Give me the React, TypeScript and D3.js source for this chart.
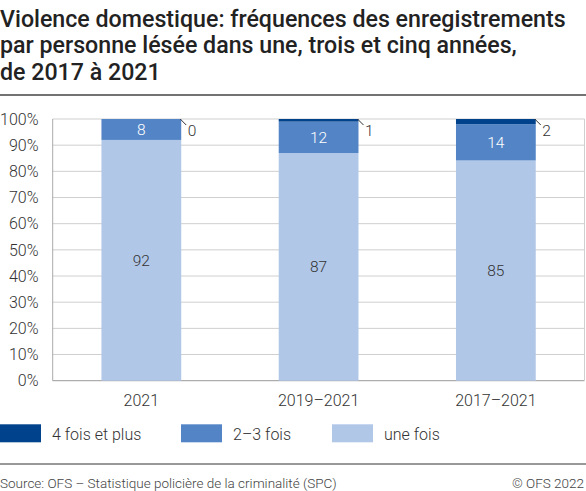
import { useEffect, useRef } from 'react'
import * as d3 from 'd3'

const categories = ['2021', '2019–2021', '2017–2021']
const series = ['4 fois et plus', '2–3 fois', 'une fois']
const uneFois = [92, 87, 85]
const deuxTrois = [8, 12, 14]
const quatrePlus = [0, 1, 2]
const yTicks = [0, 10, 20, 30, 40, 50, 60, 70, 80, 90, 100]
const titleLines = [
  'Violence domestique: fréquences des enregistrements',
  'par personne lésée dans une, trois et cinq années,',
  'de 2017 à 2021',
]
const colors = ['#00428c', '#5385c6', '#b1c7e8']

export default function App() {
  const ref = useRef<SVGSVGElement>(null)

  useEffect(() => {
    if (!ref.current) return
    const svg = d3.select(ref.current)
    svg.selectAll('*').remove()

    const width = 586
    const height = 491
    const font = 'Roboto, sans-serif'
    svg.attr('width', width).attr('height', height)

    // title
    svg.append('g')
      .selectAll('text')
      .data(titleLines)
      .join('text')
      .attr('x', 0)
      .attr('y', (d, i) => 26.5 + i * 26.8)
      .style('font-family', font)
      .style('font-weight', 500)
      .style('font-size', '23.2px')
      .style('fill', '#222')
      .text(d => d)

    svg.append('line')
      .attr('x1', 0).attr('x2', width)
      .attr('y1', 95).attr('y2', 95)
      .attr('stroke', '#444').attr('stroke-width', 1.5)

    const left = 52.7
    const right = 584.5
    const y = d3.scaleLinear().domain([0, 1]).range([380.7, 119])
    const x = d3.scaleBand().domain(categories).range([left, right]).paddingInner(0.55).paddingOuter(0.275)

    // gridlines
    svg.append('g')
      .selectAll('line')
      .data(yTicks)
      .join('line')
      .attr('x1', left).attr('x2', right)
      .attr('y1', d => y(d / 100)).attr('y2', d => y(d / 100))
      .attr('stroke', d => (d === 0 ? '#999' : '#cfcfcf'))
      .attr('stroke-width', 1)

    svg.append('line')
      .attr('x1', left).attr('x2', left)
      .attr('y1', y(1)).attr('y2', y(0))
      .attr('stroke', '#aaa')
    svg.append('line')
      .attr('x1', right).attr('x2', right)
      .attr('y1', y(1)).attr('y2', y(0))
      .attr('stroke', '#cfcfcf')

    svg.append('g')
      .selectAll('text')
      .data(yTicks)
      .join('text')
      .attr('x', 38.5)
      .attr('y', d => y(d / 100))
      .attr('dy', '0.36em')
      .attr('text-anchor', 'end')
      .style('font-family', font)
      .style('font-weight', 300)
      .style('font-size', '16px')
      .style('fill', '#333')
      .text(d => `${d}%`)

    // stacked bars, expanded to 100%
    const rows = categories.map((c, i) => ({
      cat: c,
      une: uneFois[i],
      deux: deuxTrois[i],
      quatre: quatrePlus[i],
    }))
    const stack = d3.stack<any>()
      .keys(['une', 'deux', 'quatre'])
      .offset(d3.stackOffsetExpand)(rows)
    const keyColor: Record<string, string> = { une: colors[2], deux: colors[1], quatre: colors[0] }

    stack.forEach(layer => {
      svg.append('g')
        .selectAll('rect')
        .data(layer)
        .join('rect')
        .attr('x', d => x(d.data.cat)!)
        .attr('width', x.bandwidth())
        .attr('y', d => y(d[1]))
        .attr('height', d => y(d[0]) - y(d[1]))
        .attr('fill', keyColor[layer.key])
    })

    // inner labels
    const inner = [
      { layer: stack[0], fill: '#333' },
      { layer: stack[1], fill: '#fff' },
    ]
    inner.forEach(({ layer, fill }) => {
      svg.append('g')
        .selectAll('text')
        .data(layer)
        .join('text')
        .attr('x', d => x(d.data.cat)! + x.bandwidth() / 2)
        .attr('y', d => (y(d[0]) + y(d[1])) / 2)
        .attr('dy', '0.36em')
        .attr('text-anchor', 'middle')
        .style('font-family', font)
        .style('font-weight', 300)
        .style('font-size', '15.5px')
        .style('fill', fill)
        .text(d => d.data[layer.key])
    })

    // outside labels for the top segment, with a leader line
    const top = stack[2]
    const lead = svg.append('g')
    top.forEach(d => {
      const bx = x(d.data.cat)! + x.bandwidth()
      const by = y(d[1])
      lead.append('line')
        .attr('x1', bx - 1).attr('y1', by)
        .attr('x2', bx + 5).attr('y2', by + 6)
        .attr('stroke', '#333').attr('stroke-width', 1)
      lead.append('text')
        .attr('x', bx + 6.5)
        .attr('y', by + 11.5)
        .attr('dy', '0.36em')
        .style('font-family', font)
        .style('font-weight', 300)
        .style('font-size', '15.5px')
        .style('fill', '#333')
        .text(d.data.quatre)
    })

    // category labels
    svg.append('g')
      .selectAll('text')
      .data(categories)
      .join('text')
      .attr('x', d => x(d)! + x.bandwidth() / 2)
      .attr('y', 405.5)
      .attr('text-anchor', 'middle')
      .style('font-family', font)
      .style('font-weight', 300)
      .style('font-size', '16px')
      .style('fill', '#333')
      .text(d => d)

    // legend
    const legendX = [0, 181, 332]
    const lg = svg.append('g')
    series.forEach((s, i) => {
      lg.append('rect')
        .attr('x', legendX[i]).attr('y', 424.3)
        .attr('width', 41).attr('height', 18)
        .attr('fill', colors[i])
      lg.append('text')
        .attr('x', legendX[i] + 52)
        .attr('y', 439.5)
        .style('font-family', font)
        .style('font-weight', 300)
        .style('font-size', '16px')
        .style('fill', '#333')
        .text(s)
    })

    svg.append('line')
      .attr('x1', 0).attr('x2', width)
      .attr('y1', 464).attr('y2', 464)
      .attr('stroke', '#333').attr('stroke-width', 1)

    svg.append('text')
      .attr('x', 0).attr('y', 488)
      .style('font-family', font)
      .style('font-weight', 300)
      .style('font-size', '13.5px')
      .style('fill', '#444')
      .text('Source: OFS – Statistique policière de la criminalité (SPC)')
    svg.append('text')
      .attr('x', 584).attr('y', 488)
      .attr('text-anchor', 'end')
      .style('font-family', font)
      .style('font-weight', 300)
      .style('font-size', '13.5px')
      .style('fill', '#444')
      .text('© OFS 2022')
  }, [])

  return (
    <div style={{ position: 'absolute', left: 0, top: 0 }}>
      <svg ref={ref} style={{ display: 'block' }}></svg>
    </div>
  )
}
